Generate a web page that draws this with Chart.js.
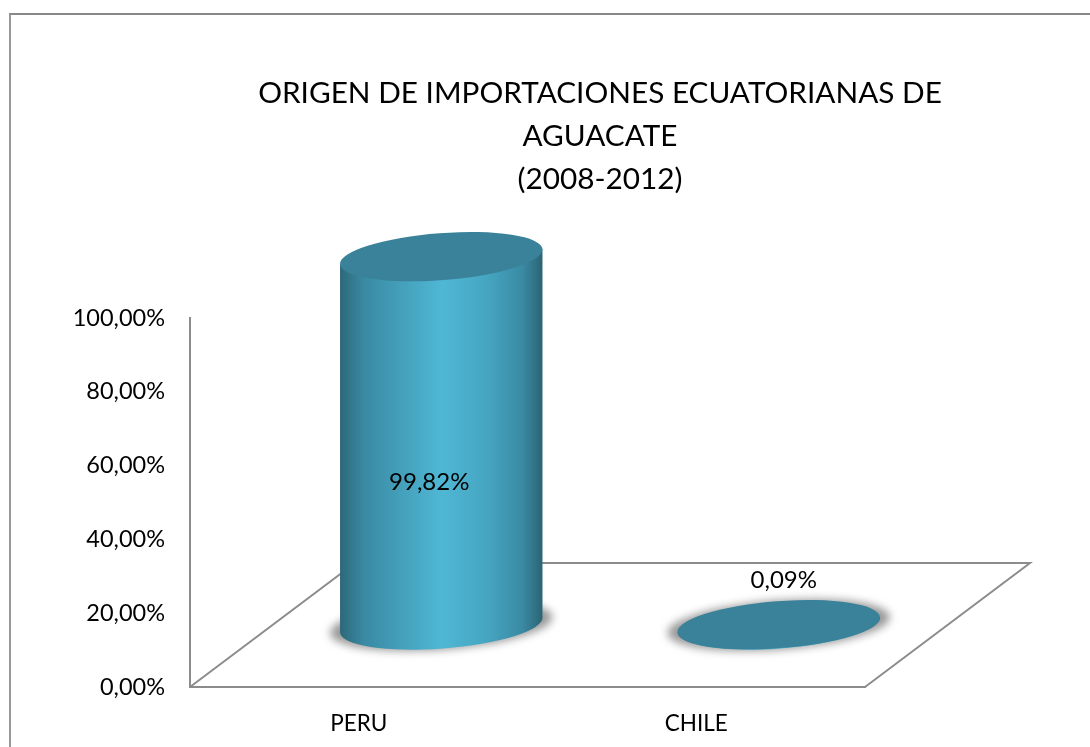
<!DOCTYPE html>
<html>
<head>
<meta charset="utf-8">
<title>Origen de importaciones</title>
<script src="https://cdn.jsdelivr.net/npm/chart.js@4/dist/chart.umd.min.js"></script>
<style>
    body { margin: 0; background: #fff; overflow: hidden; }
    #marco { position: absolute; left: 9px; top: 13px; right: 0; bottom: 0; border-left: 2px solid #999; border-top: 2px solid #888; }
    canvas { position: absolute; left: 0; top: 0; }
</style>
</head>
<body>
<div id="marco"></div>
<canvas id="grafico" width="1090" height="747"></canvas>
<script>
const tituloLineas = ['ORIGEN DE IMPORTACIONES ECUATORIANAS DE', 'AGUACATE', '(2008-2012)'];
const paises = ['PERU', 'CHILE'];
const porcentajes = [99.82, 0.09];
const etiquetasEje = [0, 20, 40, 60, 80, 100];

const FUENTE = "Lato, sans-serif";
const COLOR_LINEA = '#8c8c8c';
const COLOR_TAPA = '#3a829a';
// profundidad del piso 3D, las barras van a la mitad
const PROF_X = 165, PROF_Y = -124;
const RADIO_B = 23.5, GIRO = -4.3 * Math.PI / 180;
const OFFSET_ETIQUETA = [{ x: -12, y: 41 }, { x: 5, y: -45 }];
const formato = v => v.toFixed(2).replace('.', ',') + '%';

// Cilindro en lugar del rectangulo de la barra
Chart.BarElement.prototype.draw = function (ctx) {
    const { x, y, base, width } = this.getProps(['x', 'y', 'base', 'width']);
    const cx = x + PROF_X / 2, arriba = y + PROF_Y / 2, abajo = base + PROF_Y / 2;
    const a = width / 2;
    const dx = a * Math.cos(GIRO), dy = a * Math.sin(GIRO);

    ctx.save();
    ctx.filter = 'blur(4px)';
    ctx.fillStyle = '#989898';
    ctx.beginPath();
    ctx.ellipse(cx, abajo, a + 10, RADIO_B + 1, GIRO, 0, Math.PI * 2);
    ctx.fill();
    ctx.restore();

    const grad = ctx.createLinearGradient(cx - a, 0, cx + a, 0);
    grad.addColorStop(0, '#2d6779');
    grad.addColorStop(0.12, '#3a8aa3');
    grad.addColorStop(0.5, '#4fb7d4');
    grad.addColorStop(0.72, '#46a6c2');
    grad.addColorStop(0.9, '#3a8aa3');
    grad.addColorStop(1, '#2b6373');
    ctx.save();
    ctx.fillStyle = grad;
    ctx.beginPath();
    ctx.moveTo(cx - dx, arriba - dy);
    ctx.lineTo(cx - dx, abajo - dy);
    ctx.ellipse(cx, abajo, a, RADIO_B, GIRO, Math.PI, 0, true);
    ctx.lineTo(cx + dx, arriba + dy);
    ctx.closePath();
    ctx.fill();

    ctx.fillStyle = this.options.backgroundColor;
    ctx.beginPath();
    ctx.ellipse(cx, arriba, a, RADIO_B, GIRO, 0, Math.PI * 2);
    ctx.fill();
    ctx.restore();
};

const pisoPlugin = {
    id: 'piso',
    beforeDraw(chart) {
        // el titulo va centrado sobre el area completa, no sobre el eje
        chart.titleBlock.left = 110;
        chart.titleBlock.right = 1090;
    },
    beforeDatasetsDraw(chart) {
        const { ctx, chartArea: { left, right, bottom } } = chart;
        ctx.save();
        ctx.strokeStyle = COLOR_LINEA;
        ctx.lineWidth = 2;
        ctx.beginPath();
        ctx.moveTo(left, bottom);
        ctx.lineTo(left + PROF_X, bottom + PROF_Y);
        ctx.lineTo(right + PROF_X, bottom + PROF_Y);
        ctx.lineTo(right, bottom);
        ctx.stroke();
        ctx.restore();
    },
    afterDatasetsDraw(chart) {
        const { ctx } = chart;
        ctx.save();
        ctx.font = '24px ' + FUENTE;
        ctx.fillStyle = '#000';
        ctx.textAlign = 'center';
        ctx.textBaseline = 'middle';
        chart.getDatasetMeta(0).data.forEach((bar, i) => {
            const medio = (bar.y + bar.base) / 2 + PROF_Y / 2;
            ctx.fillText(formato(porcentajes[i]), bar.x + PROF_X / 2 + OFFSET_ETIQUETA[i].x, medio + OFFSET_ETIQUETA[i].y);
        });
        ctx.restore();
    }
};

new Chart(document.getElementById('grafico'), {
    type: 'bar',
    data: {
        labels: paises,
        datasets: [{
            data: porcentajes,
            backgroundColor: COLOR_TAPA,
            barThickness: 203,
            clip: false
        }]
    },
    options: {
        responsive: false,
        animation: false,
        layout: { padding: { top: 72, right: 225, left: 0, bottom: 0 } },
        plugins: {
            legend: { display: false },
            tooltip: { enabled: false },
            title: {
                display: true,
                text: tituloLineas,
                color: '#000',
                font: { family: FUENTE, size: 29.75, weight: 'normal', lineHeight: 43 / 29.75 },
                padding: { top: 0, bottom: 117 }
            }
        },
        scales: {
            x: {
                afterFit: s => { s.height = 60; },
                grid: { display: false, drawTicks: false },
                border: { color: COLOR_LINEA, width: 2 },
                ticks: { color: '#000', font: { family: FUENTE, size: 22.5 }, padding: 23 }
            },
            y: {
                min: 0,
                max: 100,
                afterFit: s => { s.width = 190; },
                afterBuildTicks: s => { s.ticks = etiquetasEje.map(value => ({ value })); },
                grid: { display: false, drawTicks: false },
                border: { color: COLOR_LINEA, width: 2 },
                ticks: { color: '#000', font: { family: FUENTE, size: 23.5 }, padding: 25, callback: formato }
            }
        }
    },
    plugins: [pisoPlugin]
});
</script>
</body>
</html>
